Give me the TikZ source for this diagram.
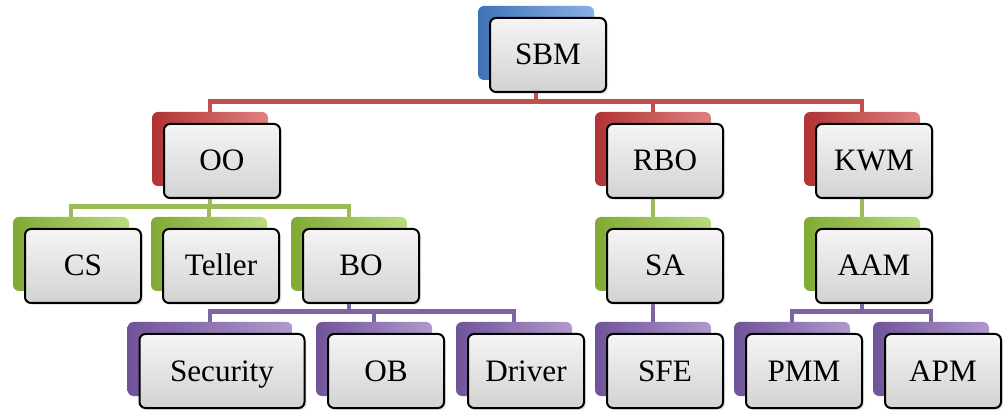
\documentclass[tikz,border=0pt]{standalone}
\usepackage{fontspec}
\setmainfont{Liberation Serif}
\usetikzlibrary{backgrounds,shadows}

\definecolor{tabblue}{HTML}{4A86D8}
\definecolor{tabred}{HTML}{D03C3C}
\definecolor{tabgreen}{HTML}{96C83C}
\definecolor{tabpurple}{HTML}{8462B4}
\definecolor{linkred}{HTML}{C0504D}
\definecolor{linkgreen}{HTML}{9BBB59}
\definecolor{linkpurple}{HTML}{8064A2}

\tikzset{
  card/.style={draw=black, line width=1pt, rounded corners=3pt,
    top color=gray!8, bottom color=gray!35,
    drop shadow={opacity=0.2, shadow xshift=1pt, shadow yshift=-1pt},
    minimum width=58pt, minimum height=37pt, inner sep=0pt,
    text height=11pt, text depth=1pt,
    font=\fontsize{15.6}{18}\selectfont},
  tab/.style={rounded corners=3pt, left color=#1!85!black, middle color=#1,
    right color=#1!65!white,
    minimum width=58pt, minimum height=37pt, inner sep=0pt},
  link/.style={draw=#1, line width=2.2pt},
}

\begin{document}
\begin{tikzpicture}[x=0.5pt,y=-0.5pt]
    \useasboundingbox (0,0) rectangle (1004,410);
    % top
    \node[tab=tabblue] (sbm-b) at (536,43) {};
    \node[card] (sbm) at (548,55) {SBM};
    % first level
    \node[tab=tabred] (oo-b) at (210,149) {};
    \node[card] (oo) at (222,161) {OO};
    \node[tab=tabred] (rbo-b) at (653,149) {};
    \node[card] (rbo) at (665,161) {RBO};
    \node[tab=tabred] (kwm-b) at (862,149) {};
    \node[card] (kwm) at (874,161) {KWM};
    % second level
    \node[tab=tabgreen] (cs-b) at (71,254) {};
    \node[card] (cs) at (83,266) {CS};
    \node[tab=tabgreen] (teller-b) at (209,254) {};
    \node[card] (teller) at (221,266) {Teller};
    \node[tab=tabgreen] (bo-b) at (349,254) {};
    \node[card] (bo) at (361,266) {BO};
    \node[tab=tabgreen] (sa-b) at (653,254) {};
    \node[card] (sa) at (665,266) {SA};
    \node[tab=tabgreen] (aam-b) at (862,254) {};
    \node[card] (aam) at (874,266) {AAM};
    % third level
    \node[tab=tabpurple, minimum width=82.5pt] (sec-b) at (210,359) {};
    \node[card, minimum width=82.5pt] (sec) at (222,371) {Security};
    \node[tab=tabpurple] (ob-b) at (374,359) {};
    \node[card] (ob) at (386,371) {OB};
    \node[tab=tabpurple] (drv-b) at (514,359) {};
    \node[card] (drv) at (526,371) {Driver};
    \node[tab=tabpurple] (sfe-b) at (653,359) {};
    \node[card] (sfe) at (665,371) {SFE};
    \node[tab=tabpurple] (pmm-b) at (792,359) {};
    \node[card] (pmm) at (804,371) {PMM};
    \node[tab=tabpurple] (apm-b) at (931,359) {};
    \node[card] (apm) at (943,371) {APM};
    % connectors
    \begin{scope}[on background layer]
        \draw[link=linkred] (sbm-b.south) |- ([yshift=5pt]oo-b.north) -- (oo-b.north);
        \draw[link=linkred] (sbm-b.south) |- ([yshift=5pt]rbo-b.north) -- (rbo-b.north);
        \draw[link=linkred] (sbm-b.south) |- ([yshift=5pt]kwm-b.north) -- (kwm-b.north);
        \draw[link=linkgreen] (oo-b.south) |- ([yshift=5pt]cs-b.north) -- (cs-b.north);
        \draw[link=linkgreen] (oo-b.south) |- ([yshift=5pt]teller-b.north) -- (teller-b.north);
        \draw[link=linkgreen] (oo-b.south) |- ([yshift=5pt]bo-b.north) -- (bo-b.north);
        \draw[link=linkgreen] (rbo-b.south) -- (sa-b.north);
        \draw[link=linkgreen] (kwm-b.south) -- (aam-b.north);
        \draw[link=linkpurple] (bo-b.south) |- ([yshift=5pt]sec-b.north) -- (sec-b.north);
        \draw[link=linkpurple] (bo-b.south) |- ([yshift=5pt]ob-b.north) -- (ob-b.north);
        \draw[link=linkpurple] (bo-b.south) |- ([yshift=5pt]drv-b.north) -- (drv-b.north);
        \draw[link=linkpurple] (sa-b.south) -- (sfe-b.north);
        \draw[link=linkpurple] (aam-b.south) |- ([yshift=5pt]pmm-b.north) -- (pmm-b.north);
        \draw[link=linkpurple] (aam-b.south) |- ([yshift=5pt]apm-b.north) -- (apm-b.north);
    \end{scope}
\end{tikzpicture}
\end{document}
